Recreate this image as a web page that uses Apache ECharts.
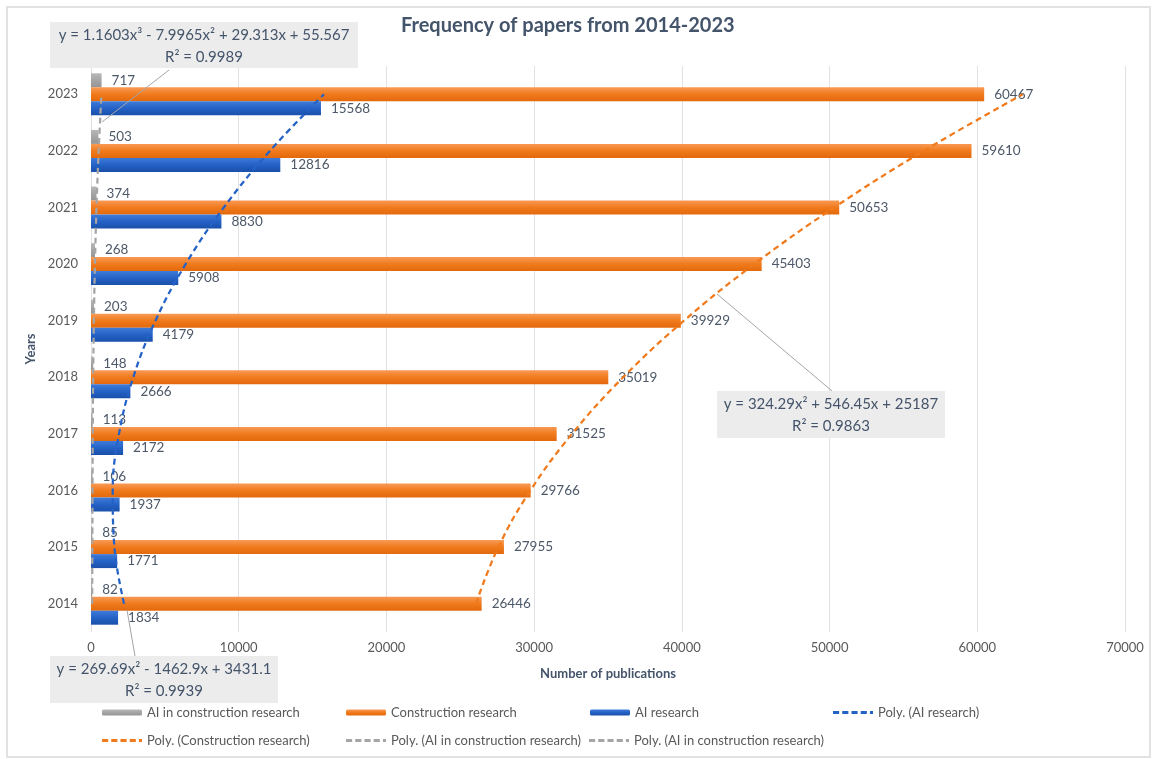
<!DOCTYPE html>
<html>
<head>
<meta charset="utf-8">
<script src="https://cdn.jsdelivr.net/npm/echarts@6/dist/echarts.min.js"></script>
<style>
html,body{margin:0;padding:0;background:#fff;}
#chart{width:1154px;height:759px;}
</style>
</head>
<body>
<div id="chart"></div>
<script>
// ---- data ----
const years = ['2014','2015','2016','2017','2018','2019','2020','2021','2022','2023'];
const aiConstruction = [82, 85, 106, 113, 148, 203, 268, 374, 503, 717];
const construction = [26446, 27955, 29766, 31525, 35019, 39929, 45403, 50653, 59610, 60467];
const aiResearch = [1834, 1771, 1937, 2172, 2666, 4179, 5908, 8830, 12816, 15568];
// trendline values read at each year
const polyAIResearch = [2238, 1584, 1470, 1895, 2859, 4363, 6406, 8988, 12110, 15771];
const polyConstruction = [26058, 27577, 29745, 32561, 36026, 40140, 44902, 50314, 56372, 63081];
const polyAIConstruction = [78, 92, 103, 119, 147, 194, 267, 372, 518, 709];
const xTicks = [0, 10000, 20000, 30000, 40000, 50000, 60000, 70000];

const FONT = 'Lato';
const LABEL = '#4d5868';
const SLATE = '#44546A';
const DASH_ICON = 'path://M0,0h6v3h-6z M9,0h6v3h-6z M18,0h6v3h-6z M27,0h6v3h-6z M36,0h3v3h-3z';

const chart = echarts.init(document.getElementById('chart'), null, {renderer: 'canvas'});

function grad(c1, c2, c3) {
  return new echarts.graphic.LinearGradient(0, 0, 0, 1, [
    {offset: 0, color: c1}, {offset: 0.5, color: c2}, {offset: 1, color: c3}
  ]);
}

const barLabel = {show: true, position: 'right', distance: 10, color: LABEL, fontSize: 13.5, fontFamily: FONT};

function legendAt(name, left, top, bar) {
  return {
    data: [bar ? {name: name} : {name: name, icon: DASH_ICON}],
    left: left, top: top, padding: 0, selectedMode: false,
    itemWidth: 40, itemHeight: bar ? 6 : 3, symbolKeepAspect: false,
    textStyle: {color: '#595959', fontSize: 13, fontFamily: FONT}
  };
}

function box(x, y, w, h, l1, l2) {
  return [
    {type: 'rect', shape: {x: x, y: y, width: w, height: h}, style: {fill: '#ececec'}, z: 100},
    {type: 'text', x: x + w / 2, y: y + 13, style: {text: l1, fill: SLATE, font: '15px ' + FONT, textAlign: 'center', textVerticalAlign: 'middle'}, z: 101},
    {type: 'text', x: x + w / 2, y: y + 35, style: {text: l2, fill: SLATE, font: '15px ' + FONT, textAlign: 'center', textVerticalAlign: 'middle'}, z: 101}
  ];
}

const option = {
  backgroundColor: '#fff',
  animation: false,
  title: {
    text: 'Frequency of papers from 2014-2023',
    left: 396, top: 11,
    textStyle: {color: SLATE, fontSize: 20, fontWeight: 'bold', fontFamily: FONT}
  },
  legend: [
    legendAt('AI in construction research', 102, 706, true),
    legendAt('Construction research', 346, 706, true),
    legendAt('AI research', 590, 706, true),
    legendAt('Poly. (AI research)', 833, 706, false),
    legendAt('Poly. (Construction research)', 102, 734, false),
    legendAt('Poly. (AI in construction research)', 346, 734, false),
    legendAt('Poly. (AI in construction research)', 589, 734, false)
  ],
  grid: {left: 91, right: 29, top: 66, bottom: 127, containLabel: false},
  xAxis: {
    type: 'value', min: xTicks[0], max: xTicks[xTicks.length - 1], interval: 10000,
    axisLine: {show: false}, axisTick: {show: false},
    axisLabel: {color: '#595959', fontSize: 13, fontFamily: FONT, margin: 9, formatter: function (v) { return String(v); }},
    splitLine: {lineStyle: {color: '#dfe1e5', width: 1}},
    name: 'Number of publications', nameLocation: 'middle', nameGap: 35,
    nameTextStyle: {color: SLATE, fontSize: 13, fontWeight: 'bold', fontFamily: FONT}
  },
  yAxis: {
    type: 'category', data: years,
    axisLine: {show: false}, axisTick: {show: false},
    axisLabel: {color: '#595959', fontSize: 13, fontFamily: FONT, margin: 13},
    name: 'Years', nameLocation: 'middle', nameGap: 50, nameRotate: 90,
    nameTextStyle: {color: SLATE, fontSize: 13, fontWeight: 'bold', fontFamily: FONT}
  },
  series: [
    {
      name: 'AI in construction research', type: 'bar', data: aiConstruction,
      barWidth: 14, barGap: '0%',
      itemStyle: {color: grad('#b8b8b8', '#a5a5a5', '#959595')},
      label: barLabel
    },
    {
      name: 'Construction research', type: 'bar', data: construction,
      barWidth: 14, barGap: '0%',
      itemStyle: {color: grad('#f89a55', '#f07a1c', '#e2690c')},
      label: barLabel
    },
    {
      name: 'AI research', type: 'bar', data: aiResearch,
      barWidth: 14, barGap: '0%',
      itemStyle: {color: grad('#3f7bd8', '#2462c6', '#1a50aa')},
      label: barLabel
    },
    {
      name: 'Poly. (AI research)', type: 'line', data: polyAIResearch, smooth: 0.4,
      symbol: 'none', z: 5,
      itemStyle: {color: '#2462c6'},
      lineStyle: {color: '#2462c6', width: 2.25, type: [6, 4]}
    },
    {
      name: 'Poly. (Construction research)', type: 'line', data: polyConstruction, smooth: 0.4,
      symbol: 'none', z: 5,
      itemStyle: {color: '#f07a1c'},
      lineStyle: {color: '#f07a1c', width: 2.25, type: [6, 4]}
    },
    {
      name: 'Poly. (AI in construction research)', type: 'line', data: polyAIConstruction, smooth: 0.4,
      symbol: 'none', z: 5,
      itemStyle: {color: '#a5a5a5'},
      lineStyle: {color: '#a5a5a5', width: 2.25, type: [6, 4]}
    }
  ],
  graphic: [
    {type: 'rect', shape: {x: 7, y: 7, width: 1143, height: 750}, style: {fill: 'none', stroke: '#e2e2e2', lineWidth: 2}, z: 0},
    {type: 'line', shape: {x1: 169, y1: 70, x2: 102, y2: 122}, style: {stroke: '#a6a6a6', lineWidth: 1}, z: 99},
    {type: 'line', shape: {x1: 127, y1: 610, x2: 135, y2: 656}, style: {stroke: '#a6a6a6', lineWidth: 1}, z: 99},
    {type: 'line', shape: {x1: 832, y1: 391, x2: 717, y2: 294}, style: {stroke: '#a6a6a6', lineWidth: 1}, z: 99}
  ].concat(
    box(50, 22, 308, 46, 'y = 1.1603x³ - 7.9965x² + 29.313x + 55.567', 'R² = 0.9989'),
    box(50, 656, 228, 47, 'y = 269.69x² - 1462.9x + 3431.1', 'R² = 0.9939'),
    box(717, 391, 228, 47, 'y = 324.29x² + 546.45x + 25187', 'R² = 0.9863')
  )
};
chart.setOption(option);
</script>
</body>
</html>
